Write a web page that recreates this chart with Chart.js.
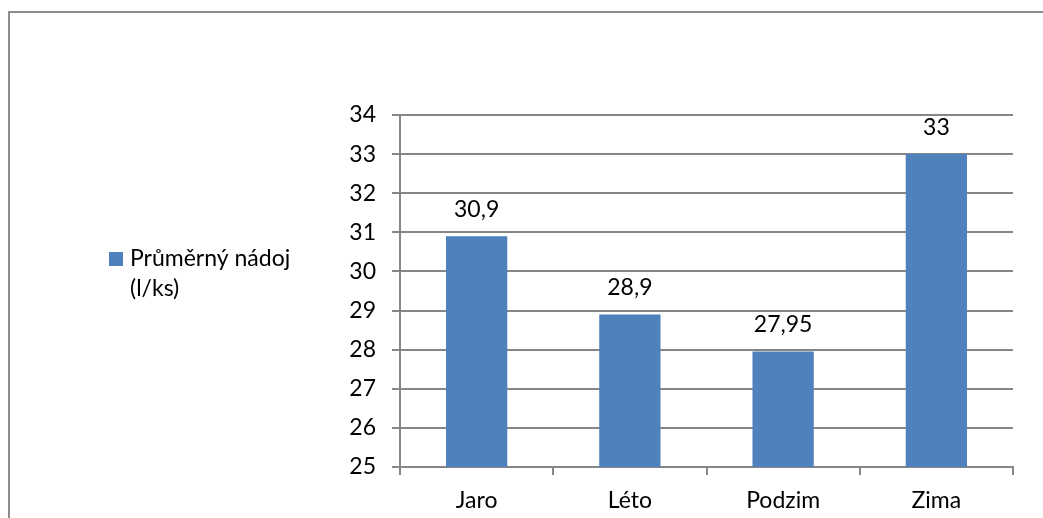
<!DOCTYPE html>
<html lang="cs">
<head>
<meta charset="UTF-8">
<title>Průměrný nádoj</title>
<style>
  * { margin: 0; padding: 0; box-sizing: border-box; }
  body { width: 1043px; height: 518px; overflow: hidden; background: #ffffff; position: relative; }
  /* outer chart frame, runs off the right and bottom edges */
  .frame {
    position: absolute;
    left: 8px;
    top: 11px;
    width: 1200px;
    height: 700px;
    border: 2px solid #8c8c8c;
  }
  #chart { position: absolute; left: 0; top: 0; }
</style>
</head>
<body>
<div class="frame"></div>
<canvas id="chart" width="1043" height="518"></canvas>

<script src="https://cdn.jsdelivr.net/npm/chart.js"></script>
<script>
  const seasons = ['Jaro', 'Léto', 'Podzim', 'Zima'];
  const avgYield = [30.9, 28.9, 27.95, 33];
  const seriesName = ['Průměrný nádoj', '(l/ks)'];
  const yMin = 25;
  const yMax = 34;

  const FONT = 'Lato, "Open Sans", sans-serif';
  const FONT_SIZE = 23;
  const GRID = '#868686';
  const BAR = '#4f81bd';

  // value labels above each bar, decimal comma
  const valueLabels = {
    id: 'valueLabels',
    afterDatasetsDraw(chart) {
      const ctx = chart.ctx;
      const meta = chart.getDatasetMeta(0);
      ctx.save();
      ctx.font = FONT_SIZE + 'px ' + FONT;
      ctx.fillStyle = '#000000';
      ctx.textAlign = 'center';
      ctx.textBaseline = 'middle';
      meta.data.forEach((bar, i) => {
        const txt = String(avgYield[i]).replace('.', ',');
        ctx.fillText(txt, bar.x, bar.y - 27);
      });
      ctx.restore();
    }
  };

  // legend on the left, wrapped over two lines
  const sideLegend = {
    id: 'sideLegend',
    afterDraw(chart) {
      const ctx = chart.ctx;
      ctx.save();
      ctx.fillStyle = BAR;
      ctx.fillRect(109, 252, 14, 14);
      ctx.font = FONT_SIZE + 'px ' + FONT;
      ctx.fillStyle = '#000000';
      ctx.textAlign = 'left';
      ctx.textBaseline = 'middle';
      seriesName.forEach((line, i) => {
        ctx.fillText(line, 130, 259 + i * 30);
      });
      ctx.restore();
    }
  };

  new Chart(document.getElementById('chart'), {
    type: 'bar',
    data: {
      labels: seasons,
      datasets: [{
        label: seriesName.join(' '),
        data: avgYield,
        backgroundColor: BAR,
        borderWidth: 0,
        barPercentage: 0.4,
        categoryPercentage: 1.0
      }]
    },
    options: {
      responsive: false,
      animation: false,
      layout: { padding: { left: 330, right: 30, top: 115, bottom: 0 } },
      plugins: {
        legend: { display: false },
        tooltip: { enabled: false }
      },
      scales: {
        x: {
          afterFit(scale) { scale.height = 51; },
          grid: {
            offset: true,
            drawOnChartArea: false,
            color: GRID,
            lineWidth: 2,
            tickLength: 8
          },
          border: { color: GRID, width: 2 },
          ticks: {
            color: '#000000',
            font: { family: FONT, size: FONT_SIZE },
            padding: 12
          }
        },
        y: {
          min: yMin,
          max: yMax,
          afterFit(scale) { scale.width = 70; },
          grid: {
            color: GRID,
            lineWidth: 2,
            tickLength: 8
          },
          border: { color: GRID, width: 2 },
          ticks: {
            stepSize: 1,
            color: '#000000',
            font: { family: FONT, size: FONT_SIZE },
            padding: 16
          }
        }
      }
    },
    plugins: [valueLabels, sideLegend]
  });
</script>
</body>
</html>
